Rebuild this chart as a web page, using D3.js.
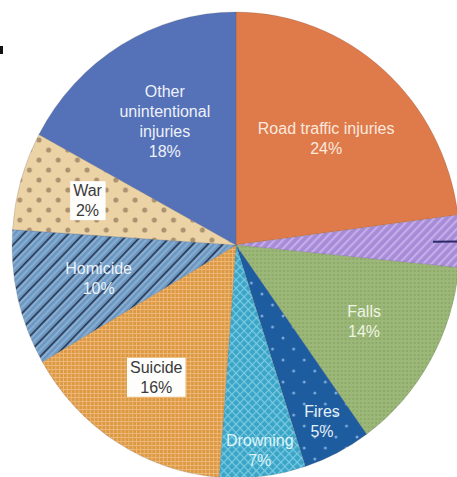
<!DOCTYPE html>
<html>
<head>
<meta charset="utf-8">
<script src="https://cdn.jsdelivr.net/npm/d3@7"></script>
<style>
  html, body { margin: 0; padding: 0; background: #fff; }
  svg { display: block; }
</style>
</head>
<body>
<svg id="chart" width="457" height="477"></svg>
<script>
// ---- data ----
const categories = ["Road traffic injuries", "Other intentional injuries", "Falls", "Fires", "Drowning", "Suicide", "Homicide", "War", "Other unintentional injuries"];
const shares = [22.9, 3.6, 13.5, 4.9, 6.2, 15.4, 9.4, 6.8, 17.1];        // slice sizes as drawn
const pctLabels = ["24%", "", "14%", "5%", "7%", "16%", "10%", "2%", "18%"]; // printed labels
const nameLines = [["Road traffic injuries"], [], ["Falls"], ["Fires"], ["Drowning"], ["Suicide"], ["Homicide"], ["War"], ["Other", "unintentional", "injuries"]];

// ---- styles / layout ----
const W = 457, H = 477;
const cx = 236, cy = 245, R = 233, sx = 0.961;
const fills = ["#df7a4b", "url(#pPurple)", "url(#pFalls)", "url(#pFires)", "url(#pDrown)", "url(#pSuicide)", "url(#pHomicide)", "url(#pWar)", "#5571b8"];
const labelRadius = [0.61, 0, 0.66, 0.85, 0.89, 0.67, 0.63, 0.69, 0.62];
const boxed = [false, false, false, false, false, true, false, true, false];
const textColors = ["#fbe9df", "#fff", "#eef4e4", "#e6f0fa", "#dff4fa", "#3a3a3a", "#eaf2fa", "#3a3a3a", "#eef1fa"];

const svg = d3.select("#chart");
const defs = svg.append("defs");

function pat(id, w, h, base, transform) {
  const p = defs.append("pattern").attr("id", id).attr("patternUnits", "userSpaceOnUse")
    .attr("width", w).attr("height", h);
  if (transform) p.attr("patternTransform", transform);
  p.append("rect").attr("width", w).attr("height", h).attr("fill", base);
  return p;
}
// purple stripes
let p = pat("pPurple", 6, 6, "#a88bd8", "rotate(45)");
p.append("rect").attr("x", 0).attr("y", 0).attr("width", 2.2).attr("height", 6).attr("fill", "#c3aeea");
// falls: fine dots
p = pat("pFalls", 4, 4, "#9cb878");
p.append("circle").attr("cx", 2).attr("cy", 2).attr("r", 0.9).attr("fill", "#86a463");
// fires: sparse light dots
p = pat("pFires", 22, 22, "#1f5c9f");
p.append("circle").attr("cx", 5).attr("cy", 5).attr("r", 1.5).attr("fill", "#7cabdc");
p.append("circle").attr("cx", 16).attr("cy", 16).attr("r", 1.5).attr("fill", "#7cabdc");
// drowning: crosshatch
p = pat("pDrown", 6, 6, "#3aa5c7", "rotate(45)");
p.append("rect").attr("x", 0).attr("y", 0).attr("width", 1.2).attr("height", 6).attr("fill", "#7ccbe2");
p.append("rect").attr("x", 0).attr("y", 0).attr("width", 6).attr("height", 1.2).attr("fill", "#7ccbe2");
// suicide: grid
p = pat("pSuicide", 4, 4, "#de9843");
p.append("rect").attr("x", 0).attr("y", 0).attr("width", 1).attr("height", 4).attr("fill", "#ebb877");
p.append("rect").attr("x", 0).attr("y", 0).attr("width", 4).attr("height", 1).attr("fill", "#ebb877");
// homicide: light stripes + dark lines
p = pat("pHomicide", 11, 11, "#6b96c0", "rotate(45)");
p.append("rect").attr("x", 2).attr("y", 0).attr("width", 2).attr("height", 11).attr("fill", "#8bb0d4");
p.append("rect").attr("x", 6.5).attr("y", 0).attr("width", 2).attr("height", 11).attr("fill", "#8bb0d4");
p.append("rect").attr("x", 0).attr("y", 0).attr("width", 1.6).attr("height", 11).attr("fill", "#25344f");
// war: brown dots
p = pat("pWar", 20, 20, "#ecd3a6");
p.append("circle").attr("cx", 5).attr("cy", 5).attr("r", 2.6).attr("fill", "#ad9270");
p.append("circle").attr("cx", 15).attr("cy", 15).attr("r", 2.6).attr("fill", "#ad9270");

defs.append("filter").attr("id", "soft").append("feGaussianBlur").attr("stdDeviation", 0.5);

// ---- pie ----
const pie = d3.pie().sort(null).value(d => d)(shares);
const arc = d3.arc().innerRadius(0).outerRadius(R);

const g = svg.append("g").attr("transform", `translate(${cx},${cy}) scale(${sx},1)`).attr("filter", "url(#soft)");
g.selectAll("path").data(pie).join("path")
  .attr("d", arc)
  .attr("fill", (d, i) => fills[i])
  .attr("stroke", "rgba(90,90,90,0.35)")
  .attr("stroke-width", 0.6);

// polar helper (screen coords)
function polar(angle, r) {
  return [cx + sx * r * Math.sin(angle), cy - r * Math.cos(angle)];
}

// leader line for the small unlabelled slice
const mid1 = (pie[1].startAngle + pie[1].endAngle) / 2;
const a0 = polar(mid1, R * 0.88), a1 = polar(mid1, R * 1.06);
svg.append("line").attr("x1", a0[0]).attr("y1", a0[1]).attr("x2", a1[0]).attr("y2", a1[1])
  .attr("stroke", "#2b2a66").attr("stroke-width", 2);

// ---- labels ----
const lineH = 20;
const lab = svg.append("g").attr("font-family", "Liberation Sans, Arial, sans-serif").attr("font-size", 16);
pie.forEach((d, i) => {
  if (!pctLabels[i]) return;
  const lines = nameLines[i].concat([pctLabels[i]]);
  const mid = (d.startAngle + d.endAngle) / 2;
  const [x, y] = polar(mid, R * labelRadius[i]);
  const top = y - (lines.length - 1) * lineH / 2;
  const tg = lab.append("g");
  const t = tg.append("text").attr("text-anchor", "middle").attr("fill", textColors[i]);
  lines.forEach((s, k) => {
    t.append("tspan").attr("x", x).attr("y", top + k * lineH).attr("dy", "0.35em").text(s);
  });
  if (boxed[i]) {
    const bb = t.node().getBBox();
    tg.insert("rect", "text").attr("x", bb.x - 3).attr("y", bb.y - 1)
      .attr("width", bb.width + 6).attr("height", bb.height + 2).attr("fill", "#fdfdfb");
  }
});

// cut-off panel mark at the left edge (only a sliver is visible in the reference)
svg.append("rect").attr("x", 0).attr("y", 46).attr("width", 3).attr("height", 8).attr("fill", "#111");
</script>
</body>
</html>
